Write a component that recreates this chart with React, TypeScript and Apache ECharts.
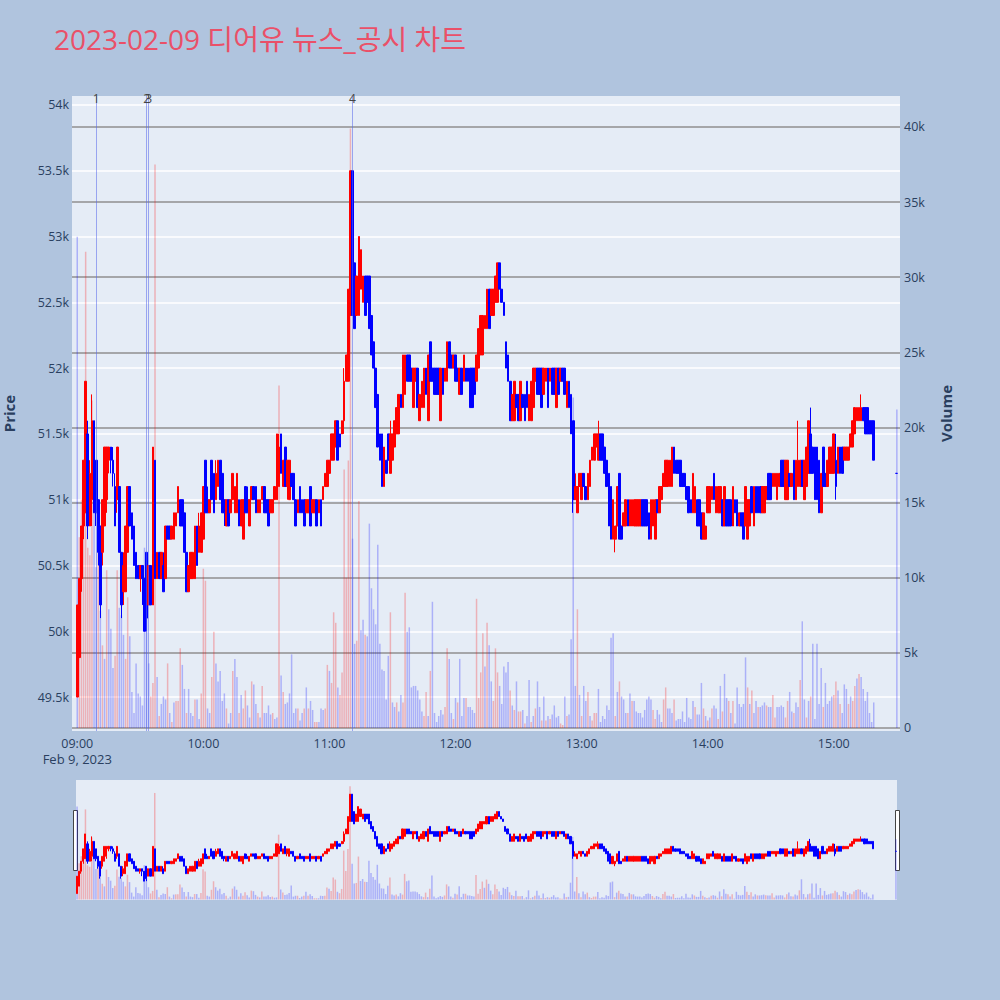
import React, { useEffect, useRef } from "react";
import * as echarts from "echarts";

const TITLE = "2023-02-09 디어유 뉴스_공시 차트";
const DATE_LABEL = "Feb 9, 2023";
const PRICE_AXIS_NAME = "Price";
const VOLUME_AXIS_NAME = "Volume";

// one candle per minute starting 09:00, in units of 100 won: [open, close, low, high]
const PRICE_UNIT = 100;
const CANDLES: number[][] = [
  [495,502,495,502],[498,504,498,504],[504,508,503,508],[508,513,507,513],[509,519,509,519],[515,508,507,516],[508,512,508,513],[510,516,508,518],[516,509,509,516],[513,509,508,513],
  [510,506,505,510],[508,502,501,508],[506,510,505,510],[508,514,508,514],[510,514,509,514],[513,514,512,514],[514,513,512,514],[513,512,511,514],[511,508,508,512],[510,514,509,514],
  [511,506,506,511],[506,502,501,506],[503,505,502,506],[503,508,503,508],[506,511,506,511],[511,508,508,511],[509,507,507,509],[508,505,505,508],[506,504,504,506],[505,504,504,505],
  [504,505,503,505],[505,504,502,505],[504,500,500,504],[506,501,500,506],[502,505,502,505],[505,502,502,505],[502,514,502,514],[513,504,504,513],[504,506,504,506],[506,504,504,506],
  [504,506,504,506],[505,503,503,506],[504,508,504,508],[508,507,507,508],[508,507,507,508],[507,508,507,508],[507,509,507,509],[508,509,508,509],[509,511,509,511],[510,508,508,510],
  [510,508,508,510],[509,506,506,509],[506,503,503,506],[503,505,503,505],[504,506,504,506],[504,506,504,506],[504,508,504,508],[508,505,505,508],[506,508,506,509],[506,509,506,509],
  [507,511,507,511],[513,509,509,513],[510,509,509,511],[509,510,509,510],[513,510,510,513],[512,509,509,512],[510,512,510,513],[511,513,511,513],[513,510,510,513],[512,509,509,512],
  [510,509,508,510],[508,510,508,510],[510,508,508,510],[509,510,509,510],[510,512,510,512],[509,511,509,511],[509,512,509,512],[510,508,508,510],[508,510,508,510],[507,510,507,510],
  [511,509,509,511],[510,509,509,511],[508,510,508,510],[510,511,510,511],[511,510,510,511],[511,509,509,511],[509,510,509,510],[509,510,509,510],[510,511,510,511],[511,509,509,511],
  [510,509,509,510],[510,508,508,510],[509,510,509,510],[509,510,509,510],[510,511,510,511],[510,515,510,515],[511,514,511,515],[515,512,512,515],[511,513,511,513],[514,511,511,514],
  [511,513,510,513],[510,513,510,513],[512,511,511,512],[512,510,510,512],[510,508,508,510],[509,510,509,510],[511,509,509,511],[510,509,509,510],[510,508,508,510],[509,510,509,510],
  [509,510,509,510],[511,508,508,511],[509,510,509,510],[509,510,509,510],[510,508,508,510],[509,510,509,510],[510,508,508,510],[510,511,510,511],[511,512,511,512],[511,513,511,513],
  [512,513,512,513],[513,515,513,515],[513,515,513,515],[514,516,514,516],[516,513,513,516],[515,514,514,515],[515,516,515,516],[516,519,515,520],[519,521,519,521],[519,526,519,526],
  [524,535,524,535],[535,524,524,535],[528,523,523,528],[524,527,524,527],[524,530,524,530],[526,529,526,529],[525,527,525,527],[527,524,524,527],[527,525,525,527],[527,523,523,527],
  [524,521,521,524],[522,520,520,522],[520,517,517,520],[518,514,514,518],[515,513,513,515],[515,511,511,515],[511,514,511,514],[513,512,512,513],[515,513,513,515],[512,515,512,516],
  [513,515,513,515],[514,516,514,516],[515,517,515,517],[515,518,515,518],[518,517,517,518],[517,521,517,521],[518,521,518,521],[521,519,519,521],[521,519,519,521],[520,519,519,520],
  [517,520,517,520],[519,520,519,520],[520,517,517,520],[516,518,516,518],[517,519,517,519],[517,520,517,520],[520,518,518,520],[516,521,516,521],[522,519,519,522],[520,519,519,520],
  [520,518,518,520],[520,518,518,520],[520,518,518,520],[516,520,516,520],[520,518,518,520],[519,520,519,520],[519,522,519,522],[522,520,520,522],[521,520,520,521],[520,521,520,521],
  [521,519,519,521],[520,519,519,520],[518,520,518,520],[520,518,518,520],[519,521,519,521],[520,519,519,520],[520,519,519,520],[520,517,517,520],[520,517,517,520],[520,518,518,520],
  [519,521,519,521],[520,523,520,523],[521,524,521,524],[521,524,521,524],[523,524,523,524],[523,526,523,526],[526,523,523,526],[524,526,524,526],[524,526,524,526],[525,527,525,527],
  [525,528,525,528],[528,526,526,528],[526,525,525,526],[525,524,524,525],[522,520,520,522],[521,519,519,521],[519,516,516,519],[516,518,516,518],[516,519,516,519],[518,517,517,518],
  [518,516,516,518],[516,519,516,519],[518,517,517,518],[518,516,516,518],[519,517,517,519],[516,518,516,518],[516,519,516,519],[517,520,517,520],[519,520,519,520],[520,518,518,520],
  [520,518,518,520],[520,517,517,520],[518,520,518,520],[519,520,519,520],[520,517,517,520],[519,520,519,520],[520,518,518,520],[520,518,518,520],[517,520,517,520],[520,518,518,520],
  [519,520,519,520],[520,519,519,520],[520,518,518,520],[517,519,517,519],[519,517,517,519],[518,515,515,518],[516,510,509,516],[510,511,510,512],[509,511,509,511],[511,512,511,512],
  [510,512,510,512],[512,511,511,512],[511,510,510,511],[510,512,510,512],[511,513,511,513],[513,514,513,514],[513,515,513,515],[514,515,514,515],[513,515,513,516],[515,513,513,515],
  [515,513,513,515],[514,512,512,514],[513,511,511,513],[512,508,508,512],[511,507,507,511],[507,510,507,510],[507,508,506,508],[508,511,508,511],[512,507,507,512],[508,507,507,508],
  [508,509,508,509],[508,510,508,510],[510,508,508,510],[508,510,508,510],[508,510,508,510],[508,510,508,510],[508,510,508,510],[508,510,508,510],[508,510,508,510],[510,508,508,510],
  [510,508,508,510],[510,508,508,510],[509,507,507,509],[507,510,507,510],[508,510,508,510],[507,510,507,510],[510,509,509,510],[509,511,509,511],[510,511,510,511],[511,512,511,512],
  [511,513,511,513],[511,513,511,513],[511,513,511,513],[511,514,511,514],[514,512,512,514],[513,512,512,513],[513,512,512,513],[513,511,511,513],[512,511,511,512],[512,511,511,512],
  [511,510,510,511],[511,509,509,511],[510,509,509,510],[509,512,509,512],[509,511,509,511],[510,508,508,510],[510,508,508,510],[509,507,507,509],[507,509,507,509],[507,508,507,508],
  [509,511,509,511],[509,511,509,511],[510,511,510,511],[512,510,510,512],[509,511,509,511],[509,511,509,511],[509,511,509,511],[510,508,508,510],[508,511,508,511],[510,508,508,510],
  [510,508,508,510],[510,508,508,510],[508,511,508,511],[510,509,509,510],[510,508,508,510],[508,509,508,509],[509,508,508,509],[509,507,507,509],[508,511,508,511],[507,510,507,510],
  [508,510,508,510],[511,509,509,511],[508,511,508,511],[511,509,509,511],[511,509,509,511],[511,509,509,511],[509,511,509,511],[509,511,509,511],[510,511,510,511],[512,510,510,512],
  [512,510,510,512],[511,512,511,512],[511,512,511,512],[510,512,510,512],[511,512,511,512],[513,511,511,513],[513,511,511,513],[510,513,510,513],[510,513,510,513],[512,511,511,512],
  [511,512,511,512],[513,510,510,513],[510,513,510,513],[511,513,511,516],[511,513,511,513],[513,511,511,513],[510,513,510,513],[511,514,511,514],[512,516,512,516],[515,512,512,517],
  [514,512,512,514],[514,510,510,514],[514,510,510,514],[513,509,509,513],[509,512,509,512],[514,511,511,514],[512,511,511,512],[511,513,511,513],[512,514,512,514],[512,514,512,514],
  [512,515,512,515],[513,511,510,515],[512,514,512,514],[514,512,512,514],[514,512,512,514],[513,514,513,514],[513,514,513,514],[513,514,513,514],[514,515,514,515],[514,516,514,516],
  [515,517,515,517],[516,517,516,517],[516,517,516,517],[516,517,516,518],[517,516,516,517],[517,515,515,517],[517,515,515,517],[516,515,515,516],[516,515,515,516],[516,513,513,516],
];
const CLOSING_TIME = "15:30";
const CLOSING_CANDLE = [512, 512, 512, 512];

// volume per minute from 09:00, in thousands of shares
const VOLUME_UNIT = 1000;
const VOLUMES: number[] = [
  32.7,12.7,15.2,14,31.7,12,11.5,21.8,15,10.7,
  12,7.8,5.5,4.6,10.5,7.9,6.6,4.0,4.8,10.5,
  8.0,7.5,6.2,4.6,8.7,6.1,2.4,1.0,4.3,2.3,
  2.1,1.5,12,9,4.3,2.1,3.0,37.5,3.4,0.8,
  1.6,2.1,1.9,4.3,1.0,0.4,1.7,1.8,1.8,5.3,
  4.2,2.6,1.0,2.6,1.0,0.8,1.9,1.9,0.6,2.3,
  10.6,9.8,1.3,1.0,3.4,6.4,4.3,3.1,3.8,1.8,
  2.3,1.3,0.3,1.0,3.8,4.6,3.4,1.0,2.2,1.3,
  2.5,1.5,0.7,3.1,2.9,1.6,1.0,0.7,2.8,1.0,
  1.0,1.5,0.9,1.0,0.6,0.7,22.8,3.5,2.4,1.6,
  1.7,2.3,4.9,1.0,1.3,1.3,0.5,1.0,1.3,2.7,
  1.3,1.8,1.2,0.4,0.4,0.4,1.3,1.2,1.3,4.2,
  3.8,3.0,7.7,7.0,2.7,2.2,3.7,17.2,10,17.8,
  39.9,12.6,5.6,5.8,15.1,6.5,7.2,6.2,6.1,13.6,
  9.3,7.9,6.9,12.2,5.6,3.9,3.8,1.9,4.8,7.7,
  1.7,1.4,1.7,1.1,2.2,1.7,9.0,6.4,6.7,2.7,
  2.8,2.8,2.5,1.9,1.1,0.8,2.4,0.8,3.8,8.4,
  1.0,0.4,0.8,1.2,0.9,1.4,5.3,4.6,1.0,0.6,
  2.0,1.7,4.6,0.8,2.0,2.0,1.4,1.4,1.2,1.0,
  8.6,2.0,3.7,6.3,4.1,7.0,5.5,3.1,1.8,5.3,
  3.7,2.8,1.6,4.1,3.7,4.4,2.5,1.5,1.2,3.1,
  1.1,1.1,1.2,0.3,0.8,3.2,0.4,0.8,1.3,3.1,
  1.4,0.5,2.1,0.5,0.8,0.6,0.9,1.5,0.7,0.8,
  0.3,0.2,2.1,0.8,0.9,5.9,22,2.8,7.9,2.2,
  0.8,2.8,1.8,2.4,0.8,0.5,1.0,1.0,2.6,0.4,
  0.8,0.6,1.5,1.2,6.0,6.3,0.8,2.4,3.1,2.1,
  1.9,1.0,1.0,2.3,1.8,1.8,1.1,1.0,1.0,0.7,
  1.2,1.9,2.1,1.9,1.2,0.6,1.2,0.9,0.4,1.9,
  2.7,1.3,1.3,1.0,1.9,0.5,0.6,0.6,1.1,0.4,
  2.0,0.7,0.6,1.8,1.4,0.9,0.9,3.0,1.3,0.8,
  0.5,0.7,1.3,1.5,1.3,0.6,2.8,1.1,3.6,2.0,
  1.8,1.0,1.8,0.3,2.7,1.6,1.4,1.6,4.7,2.7,
  1.6,2.5,1.0,1.8,1.4,1.4,1.5,1.7,1.5,1.4,
  1.4,2.2,0.7,1.4,1.4,1.5,1.4,0.7,1.8,2.4,
  1.1,1.0,1.7,1.4,3.2,7.1,1.9,0.7,1.8,2.1,
  5.6,0.6,5.6,1.6,4.0,1.4,3.0,1.6,1.8,2.1,
  2.2,3.1,2.5,1.6,1.0,2.9,2.6,1.6,2.1,1.8,
  2.8,3.3,3.6,3.4,2.6,1.8,2.4,1.0,0.4,1.7,
];
// r = red (up) volume bar, b = blue (down) volume bar
const VOLUME_DIR = [
  "brrrrrrrbb","rbrbrbbbrr","bbbrrbbbbb","bbbbbrrrbr","bbbrbrbrrr",
  "bbrbbbrbbr","rrbbrrbbbb","brbbrbbrbr","rbbrbbrbrb","bbbrbbrbrb",
  "bbbbbrbbrb","rbbrrbbbrr","brrrbrrrrr","rbbrrbbrbb","bbbbbbbbbr",
  "bbrbbrrbbb","bbbbbrrbrb","bbbbbrrbbr","brbbbrbbbb","rrrrbrbbrr",
  "rbbbbbrbrb","rrbrbbrbrb","brbrbrbbbb","rrbrbbbbrb","rbbrbrrrbb",
  "bbbbbbrbrb","bbrbrbbbbb","bbbbrrbbbr","rbbbrbbbbb","bbbbrbbbrb",
  "rbrbbrbrbb","rbrbbbbbbr","brbbrbbbrb","brrbbbbrrb","brbbrbbrbr",
  "bbbbbrbbbb","rrbrbbbrbr","rbrbbbbbbb",
].join("");
const CLOSING_VOLUME = 21.2;
const CLOSING_DIR = "b";

// news / disclosure markers
const MARKER_NAMES = ["1", "2", "3", "4"];
const MARKER_TIMES = ["09:09", "09:33", "09:34", "11:11"];

const FONT = '"Open Sans", verdana, arial, sans-serif';
const AXIS_TEXT = "#2a3f5f";
const UP = "#ff0000";
const DOWN = "#0000ff";
const UP_VOL = "rgba(255,0,0,0.25)";
const DOWN_VOL = "rgba(0,0,255,0.25)";

const pad = (n: number) => String(n).padStart(2, "0");
const label = (min: number) => `${pad(Math.floor(min / 60))}:${pad(min % 60)}`;
const START = 9 * 60;
const cats = (from: number, to: number) => {
  const out: string[] = [];
  for (let m = from; m <= to; m++) out.push(label(m));
  return out;
};
const MAIN_CATS = cats(8 * 60 + 58, 15 * 60 + 31);
const MINI_CATS = cats(9 * 60, 15 * 60 + 30);

const candleMap = new Map<string, number[]>();
const volMap = new Map<string, { v: number; up: boolean }>();
CANDLES.forEach((c, i) => {
  const t = label(START + i);
  candleMap.set(t, c.map((x) => x * PRICE_UNIT));
  volMap.set(t, { v: VOLUMES[i] * VOLUME_UNIT, up: (VOLUME_DIR[i] || "b") === "r" });
});
candleMap.set(CLOSING_TIME, CLOSING_CANDLE.map((x) => x * PRICE_UNIT));
volMap.set(CLOSING_TIME, { v: CLOSING_VOLUME * VOLUME_UNIT, up: CLOSING_DIR === "r" });

const candleData = (cs: string[]) =>
  cs.map((t) => candleMap.get(t) || ["-", "-", "-", "-"]);
const volData = (cs: string[]) =>
  cs.map((t) => {
    const v = volMap.get(t);
    return v ? { value: v.v, itemStyle: { color: v.up ? UP_VOL : DOWN_VOL } } : "-";
  });

const PRICE_MIN = 49242;
const PRICE_MAX = 54068;
const VOL_MIN = -200;
const VOL_MAX = 42060;

export default function App() {
  const ref = useRef<HTMLDivElement>(null);
  useEffect(() => {
    const chart = echarts.init(ref.current!, undefined, { renderer: "svg" });
    const candleStyle = {
      color: UP,
      color0: DOWN,
      borderColor: UP,
      borderColor0: DOWN,
      borderWidth: 1,
    };
    chart.setOption({
      animation: false,
      backgroundColor: "#b0c4de",
      textStyle: { fontFamily: FONT },
      title: {
        text: TITLE,
        left: 49,
        top: 20,
        textStyle: {
          color: "#ea5068",
          fontSize: 28,
          fontWeight: "normal",
          fontFamily: '"Open Sans", "Noto Sans CJK KR", sans-serif',
        },
      },
      grid: [
        { left: 72, right: 100, top: 96, height: 635, show: true, backgroundColor: "#e5ecf6", borderWidth: 0, outerBoundsMode: "none", containLabel: false },
        { left: 76, right: 103, top: 780, height: 120, show: true, backgroundColor: "#e5ecf6", borderWidth: 0, outerBoundsMode: "none", containLabel: false },
      ],
      xAxis: [
        {
          type: "category",
          gridIndex: 0,
          data: MAIN_CATS,
          boundaryGap: true,
          axisLine: { show: false },
          axisTick: { show: false },
          splitLine: { show: false },
          axisLabel: {
            interval: (_i: number, v: string) => v.endsWith(":00"),
            formatter: (v: string) => (v === "09:00" ? `{t|${v}}\n{d|${DATE_LABEL}}` : `{t|${v}}`),
            rich: {
              t: { color: AXIS_TEXT, fontSize: 12.5, lineHeight: 16, fontFamily: FONT },
              d: { color: AXIS_TEXT, fontSize: 13, lineHeight: 16, fontFamily: FONT },
            },
            margin: 4,
          },
        },
        {
          type: "category",
          gridIndex: 1,
          data: MINI_CATS,
          boundaryGap: true,
          show: false,
        },
      ],
      yAxis: [
        {
          type: "value",
          gridIndex: 0,
          position: "left",
          min: PRICE_MIN,
          max: PRICE_MAX,
          splitNumber: 10,
          axisLine: { show: false },
          axisTick: { show: false },
          axisLabel: {
            formatter: (v: number) => `${v / 1000}k`,
            color: AXIS_TEXT,
            fontSize: 12.5,
            margin: 3,
            showMinLabel: false,
            showMaxLabel: false,
            fontFamily: FONT,
          },
          splitLine: { lineStyle: { color: "#ffffff", width: 1.5 }, showMinLine: false, showMaxLine: false },
          name: PRICE_AXIS_NAME,
          nameLocation: "middle",
          nameGap: 56,
          nameTextStyle: { color: AXIS_TEXT, fontSize: 15, fontWeight: "bold", fontFamily: FONT },
        },
        {
          type: "value",
          gridIndex: 0,
          position: "right",
          min: VOL_MIN,
          max: VOL_MAX,
          splitNumber: 8,
          axisLine: { show: false },
          axisTick: { show: false },
          axisLabel: {
            formatter: (v: number) => (v === 0 ? "0" : `${v / 1000}k`),
            color: AXIS_TEXT,
            fontSize: 12.5,
            margin: 4,
            showMinLabel: false,
            showMaxLabel: false,
            fontFamily: FONT,
          },
          splitLine: { lineStyle: { color: "#8f8f8f", width: 1.5 }, showMinLine: false, showMaxLine: false },
          name: VOLUME_AXIS_NAME,
          nameLocation: "middle",
          nameGap: 38,
          nameTextStyle: { color: AXIS_TEXT, fontSize: 15, fontWeight: "bold", fontFamily: FONT },
        },
        { type: "value", gridIndex: 1, min: PRICE_MIN, max: PRICE_MAX, show: false, splitLine: { show: false } },
        { type: "value", gridIndex: 1, min: VOL_MIN, max: VOL_MAX, show: false, splitLine: { show: false } },
      ],
      series: [
        {
          type: "bar",
          xAxisIndex: 0,
          yAxisIndex: 1,
          data: volData(MAIN_CATS),
          barWidth: 1.5,
          silent: true,
          z: 1,
        },
        {
          type: "candlestick",
          xAxisIndex: 0,
          yAxisIndex: 0,
          data: candleData(MAIN_CATS),
          barWidth: 2.2,
          itemStyle: candleStyle,
          silent: true,
          z: 3,
          markLine: {
            silent: true,
            symbol: ["none", "none"],
            animation: false,
            lineStyle: { color: "rgba(90,105,235,0.55)", width: 1, type: "solid" },
            label: { show: true, position: "end", formatter: "{b}", color: "#444", fontSize: 12, distance: -8, fontFamily: FONT },
            data: MARKER_TIMES.map((t, i) => ({ name: MARKER_NAMES[i], xAxis: t })),
          },
        },
        {
          type: "bar",
          xAxisIndex: 1,
          yAxisIndex: 3,
          data: volData(MINI_CATS),
          barWidth: 1.5,
          silent: true,
          z: 1,
        },
        {
          type: "candlestick",
          xAxisIndex: 1,
          yAxisIndex: 2,
          data: candleData(MINI_CATS),
          barWidth: 1.6,
          itemStyle: candleStyle,
          silent: true,
          z: 3,
        },
      ],
      graphic: [
        { type: "rect", left: 73, top: 810, shape: { width: 4, height: 60 }, style: { fill: "#ffffff", stroke: "#444444", lineWidth: 1 } },
        { type: "rect", left: 895, top: 810, shape: { width: 4, height: 60 }, style: { fill: "#ffffff", stroke: "#444444", lineWidth: 1 } },
      ],
    });
    return () => chart.dispose();
  }, []);
  return (
    <div
      ref={ref}
      style={{ position: "absolute", left: 0, top: 0, width: 1000, height: 1000 }}
    />
  );
}
